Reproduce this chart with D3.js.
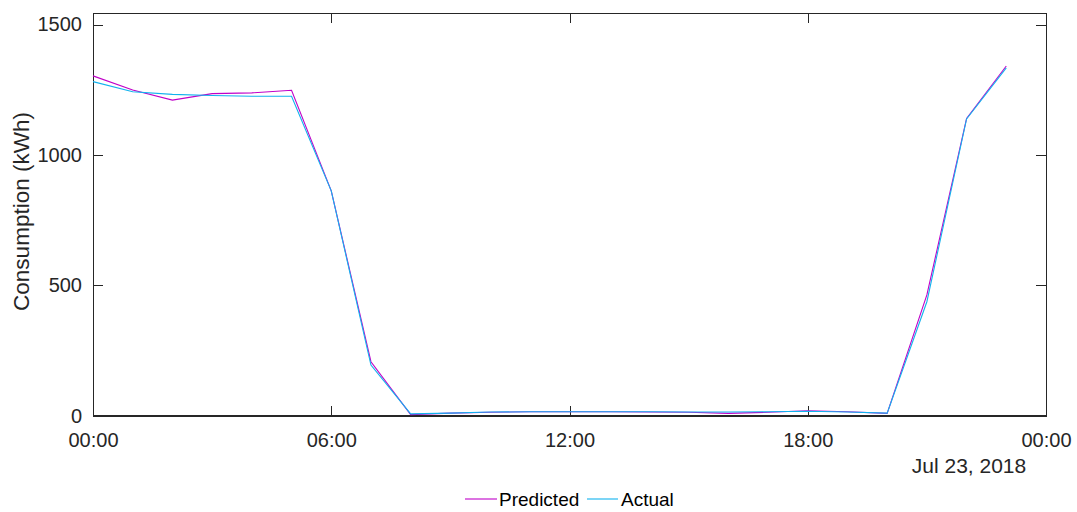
<!DOCTYPE html>
<html>
<head>
<meta charset="utf-8">
<script src="https://cdn.jsdelivr.net/npm/d3@7"></script>
<style>
  html, body { margin: 0; padding: 0; background: #fff; }
  svg { display: block; font-family: "Liberation Sans", Arial, sans-serif; }
</style>
</head>
<body>
<svg id="chart" width="1077" height="512"></svg>
<script>
// Hourly consumption for one day
const hours = [0,1,2,3,4,5,6,7,8,9,10,11,12,13,14,15,16,17,18,19,20,21,22,23];
const predicted = [1303,1249,1210,1235,1238,1248,862,207,4,10,13,15,15,15,14,13,9,13,19,15,9,463,1140,1341];
const actual    = [1281,1242,1232,1228,1225,1225,862,194,7,10,14,15,15,15,15,14,14,15,17,14,10,437,1138,1334];
const yTicks = [0, 500, 1000, 1500];
const seriesNames = ["Predicted", "Actual"];
const seriesColors = ["#c000c8", "#12b2ee"];
const dayLabel = "Jul 23, 2018";

const W = 1077, H = 512;
const m = { left: 93, right: 31, top: 13.3, bottom: 96.3 };
const iw = W - m.left - m.right, ih = H - m.top - m.bottom;

const day0 = new Date(2018, 6, 23, 0, 0);
const day1 = new Date(2018, 6, 24, 0, 0);
const toTime = h => new Date(2018, 6, 23, h, 0);

const x = d3.scaleTime().domain([day0, day1]).range([0, iw]);
const y = d3.scaleLinear().domain([0, 1543]).range([ih, 0]);

const svg = d3.select("#chart");
const g = svg.append("g").attr("transform", `translate(${m.left},${m.top})`);

const axisColor = "#262626";
const tickFont = "20px";
const xTickVals = d3.range(0, 25, 6).map(h => new Date(2018, 6, 23, h, 0));

// Box
g.append("rect").attr("x", 0).attr("y", 0).attr("width", iw).attr("height", ih)
  .attr("fill", "none").attr("stroke", axisColor).attr("stroke-width", 1).attr("shape-rendering", "crispEdges");

// Bottom axis with inward ticks
const xAxis = g.append("g").attr("transform", `translate(0,${ih})`)
  .call(d3.axisBottom(x).tickValues(xTickVals).tickFormat(d3.timeFormat("%H:%M")).tickSizeInner(-10).tickSizeOuter(0).tickPadding(17));
// Top axis: ticks only
const xAxisTop = g.append("g")
  .call(d3.axisTop(x).tickValues(xTickVals).tickFormat("").tickSizeInner(-10).tickSizeOuter(0));
// Left axis
const yAxis = g.append("g")
  .call(d3.axisLeft(y).tickValues(yTicks).tickFormat(d3.format("d")).tickSizeInner(-10).tickSizeOuter(0).tickPadding(11));
// Right axis: ticks only
const yAxisRight = g.append("g").attr("transform", `translate(${iw},0)`)
  .call(d3.axisRight(y).tickValues(yTicks).tickFormat("").tickSizeInner(-10).tickSizeOuter(0));

[xAxis, xAxisTop, yAxis, yAxisRight].forEach(a => {
  a.select(".domain").attr("stroke", axisColor).attr("shape-rendering", "crispEdges");
  a.selectAll(".tick line").attr("stroke", axisColor).attr("shape-rendering", "crispEdges");
  a.selectAll(".tick text").attr("fill", axisColor).style("font-size", tickFont)
    .style("font-family", "'Liberation Sans', Arial, sans-serif");
});

// Date label under the axis end
g.append("text").attr("x", 876).attr("y", ih + 57).attr("text-anchor", "middle")
  .attr("fill", axisColor).style("font-size", "21px").text(dayLabel);

// Y axis title
g.append("text")
  .attr("transform", `translate(${-64},${ih / 2 - 3}) rotate(-90)`)
  .attr("text-anchor", "middle").attr("fill", axisColor).style("font-size", "22.5px")
  .text("Consumption (kWh)");

// Lines
const line = d3.line().x((d, i) => x(toTime(hours[i]))).y(d => y(d));
[predicted, actual].forEach((vals, k) => {
  g.append("path").datum(vals).attr("d", line)
    .attr("fill", "none").attr("stroke", seriesColors[k]).attr("stroke-width", 1.1);
});

// Legend
const legendItems = [{ x0: 465, x1: 497, tx: 499 }, { x0: 587, x1: 618, tx: 621 }];
const lg = svg.append("g");
seriesNames.forEach((name, k) => {
  const it = legendItems[k];
  lg.append("line").attr("x1", it.x0).attr("x2", it.x1).attr("y1", 499).attr("y2", 499)
    .attr("stroke", seriesColors[k]).attr("stroke-width", 1.1);
  lg.append("text").attr("x", it.tx).attr("y", 506).attr("fill", "#000")
    .style("font-size", "19px").text(name);
});
</script>
</body>
</html>
